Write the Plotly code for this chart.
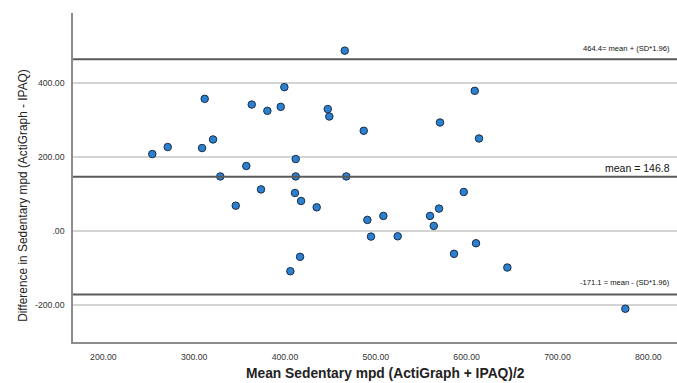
import plotly.graph_objects as go

# Bland-Altman data: mean of methods (x) and difference (y)
mean_mpd = [253.9, 270.9, 311.6, 308.7, 320.8, 328.8, 357.4, 363.4, 373.6, 345.8,
            380.6, 395.3, 399.3, 411.8, 411.8, 411.0, 417.7, 405.9, 416.6, 434.9,
            447.1, 448.8, 465.8, 467.5, 486.7, 490.7, 494.7, 508.3, 524.1, 559.7,
            563.8, 570.7, 569.6, 586.1, 596.8, 608.9, 613.6, 610.3, 644.8, 774.7]
diff_mpd = [208.5, 227.4, 357.7, 224.7, 247.9, 148.0, 176.2, 342.3, 113.0, 69.0,
            325.3, 336.1, 389.3, 195.0, 148.0, 103.3, 81.7, -108.2, -69.3, 64.5,
            330.0, 310.0, 488.0, 148.0, 271.4, 30.5, -14.6, 41.3, -13.8, 41.3,
            14.3, 293.8, 61.0, -61.2, 106.0, 379.3, 250.6, -32.6, -98.2, -209.6]

ref_values = [464.4, 146.8, -171.1]
ref_labels = ["464.4= mean + (SD*1.96)", "mean = 146.8", "-171.1 = mean - (SD*1.96)"]
ref_label_sizes = [7.6, 10.5, 7.6]
ref_label_shift = [11, 9, 12]

x_tickvals = [200, 300, 400, 500, 600, 700, 800]
x_ticktext = ["200.00", "300.00", "400.00", "500.00", "600.00", "700.00", "800.00"]
y_tickvals = [-200, 0, 200, 400]
y_ticktext = ["-200.00", ".00", "200.00", "400.00"]

FONT = "Liberation Sans, Arial, sans-serif"

fig = go.Figure()
fig.add_trace(go.Scatter(
    x=mean_mpd, y=diff_mpd, mode="markers",
    marker=dict(size=7.5, color="#2c80d0", line=dict(color="#1a2d48", width=1)),
    hoverinfo="x+y", showlegend=False, cliponaxis=False,
))

shapes = []
annotations = []
for v, lab, fs, sh in zip(ref_values, ref_labels, ref_label_sizes, ref_label_shift):
    shapes.append(dict(type="line", xref="paper", x0=0, x1=1, yref="y", y0=v, y1=v,
                       line=dict(color="#5a5a5a", width=2), layer="above"))
    annotations.append(dict(text=lab, xref="paper", x=0.991, xanchor="right",
                            yref="y", y=v, yanchor="middle", yshift=sh, showarrow=False,
                            font=dict(family=FONT, size=fs, color="#111111")))

annotations.append(dict(text="<b>Mean Sedentary mpd (ActiGraph + IPAQ)/2</b>",
                        xref="paper", x=0.518, xanchor="center",
                        yref="paper", y=-0.097, yanchor="middle", showarrow=False,
                        font=dict(family=FONT, size=13.8, color="#222222")))
annotations.append(dict(text="Difference in Sedentary mpd (ActiGraph - IPAQ)",
                        xref="paper", x=-0.084, xanchor="center",
                        yref="paper", y=0.445, yanchor="middle", textangle=-90,
                        showarrow=False,
                        font=dict(family=FONT, size=11.9, color="#222222")))

fig.update_layout(
    width=677, height=383,
    margin=dict(l=73, r=0, t=13, b=40.5),
    paper_bgcolor="white", plot_bgcolor="white",
    font=dict(family=FONT, size=9, color="#333333"),
    shapes=shapes, annotations=annotations,
    xaxis=dict(range=[166.6, 831.6], tickvals=x_tickvals, ticktext=x_ticktext,
               showgrid=False, zeroline=False, showline=True, linecolor="#8c8c8c",
               linewidth=1.5, ticks="", ticklabelstandoff=6,
               tickfont=dict(family=FONT, size=8.7, color="#333333")),
    yaxis=dict(range=[-299.5, 589.7], tickvals=y_tickvals, ticktext=y_ticktext,
               showgrid=True, gridcolor="#d4d4d4", gridwidth=1.5,
               zeroline=False, showline=True, linecolor="#8c8c8c", linewidth=1.5,
               ticks="", ticklabelstandoff=5,
               tickfont=dict(family=FONT, size=8.7, color="#333333")),
)

fig.write_html("out.html", config={"displayModeBar": False},
               post_script="document.body.style.margin='0';document.body.style.overflow='hidden';")
